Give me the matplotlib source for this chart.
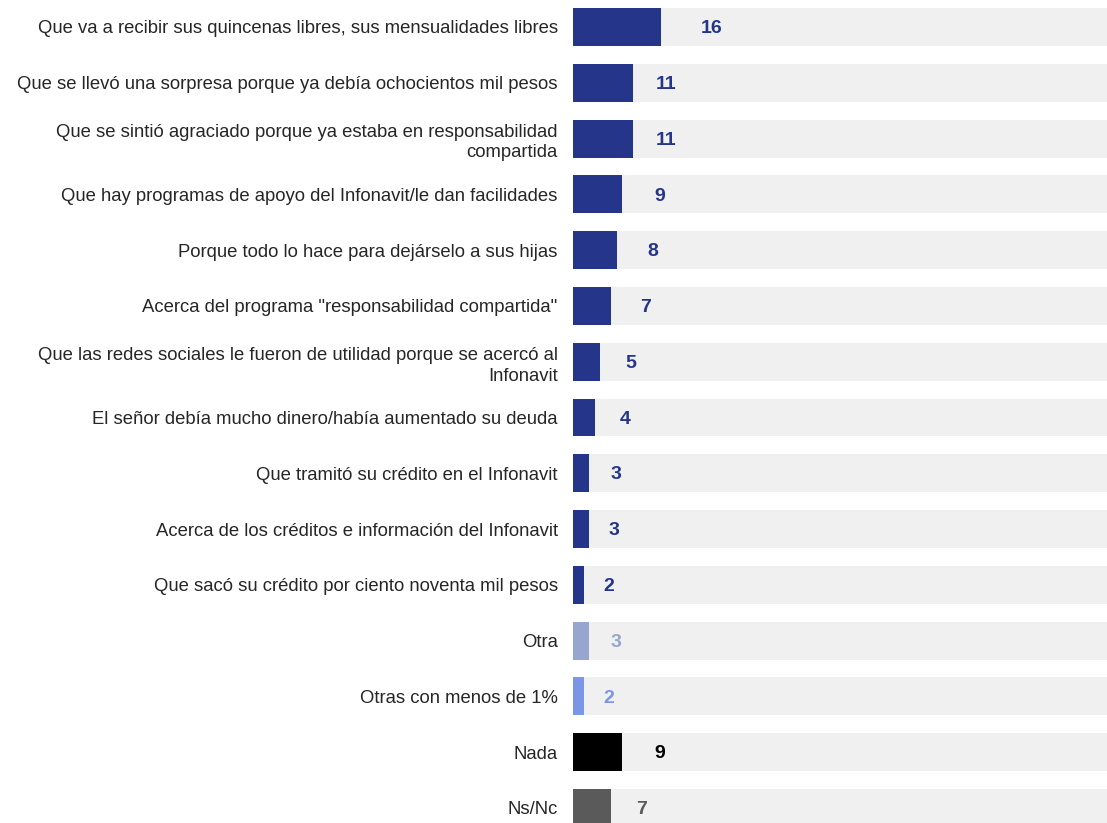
import matplotlib.pyplot as plt

categories = [
    "Que va a recibir sus quincenas libres, sus mensualidades libres",
    "Que se llevó una sorpresa porque ya debía ochocientos mil pesos",
    "Que se sintió agraciado porque ya estaba en responsabilidad\ncompartida",
    "Que hay programas de apoyo del Infonavit/le dan facilidades",
    "Porque todo lo hace para dejárselo a sus hijas",
    "Acerca del programa \"responsabilidad compartida\"",
    "Que las redes sociales le fueron de utilidad porque se acercó al\nInfonavit",
    "El señor debía mucho dinero/había aumentado su deuda",
    "Que tramitó su crédito en el Infonavit",
    "Acerca de los créditos e información del Infonavit",
    "Que sacó su crédito por ciento noventa mil pesos",
    "Otra",
    "Otras con menos de 1%",
    "Nada",
    "Ns/Nc",
]
values = [16, 11, 11, 9, 8, 7, 5, 4, 3, 3, 2, 3, 2, 9, 7]
label_offsets = [0, -1.6, -1.6, 0, 0, 0, 0, 0.4, 0, -0.4, 0, 0, 0, 0, -0.8]

DARK = "#25368a"
colors = [DARK] * 11 + ["#97a6cf", "#7b96e4", "#000000", "#5a5a5a"]

fig = plt.figure(figsize=(11.07, 8.23), dpi=100)
ax = fig.add_axes([573 / 1107, 0, 1 - 573 / 1107, 1])

ypos = list(range(len(categories)))
ax.barh(ypos, [100] * len(values), height=0.68, color="#f0f0f0", zorder=1)
ax.barh(ypos, values, height=0.68, color=colors, zorder=2)

for y, v, c, off in zip(ypos, values, colors, label_offsets):
    ax.text(v * 1.34 + 3.8 + off, y + 0.03, str(v), ha="center", va="center",
            fontsize=14, fontweight="bold", color=c, family="Liberation Sans")

ax.set_xlim(0, 97.1)
ax.set_ylim(14.27, -0.484)
ax.set_yticks(ypos)
ax.set_yticklabels(categories, fontsize=13.3, color="#262626",
                   family="Liberation Sans", linespacing=1.3)
ax.tick_params(axis="y", length=0, pad=11)
ax.set_xticks([])
for spine in ax.spines.values():
    spine.set_visible(False)

fig.savefig("out.png", dpi=100)
